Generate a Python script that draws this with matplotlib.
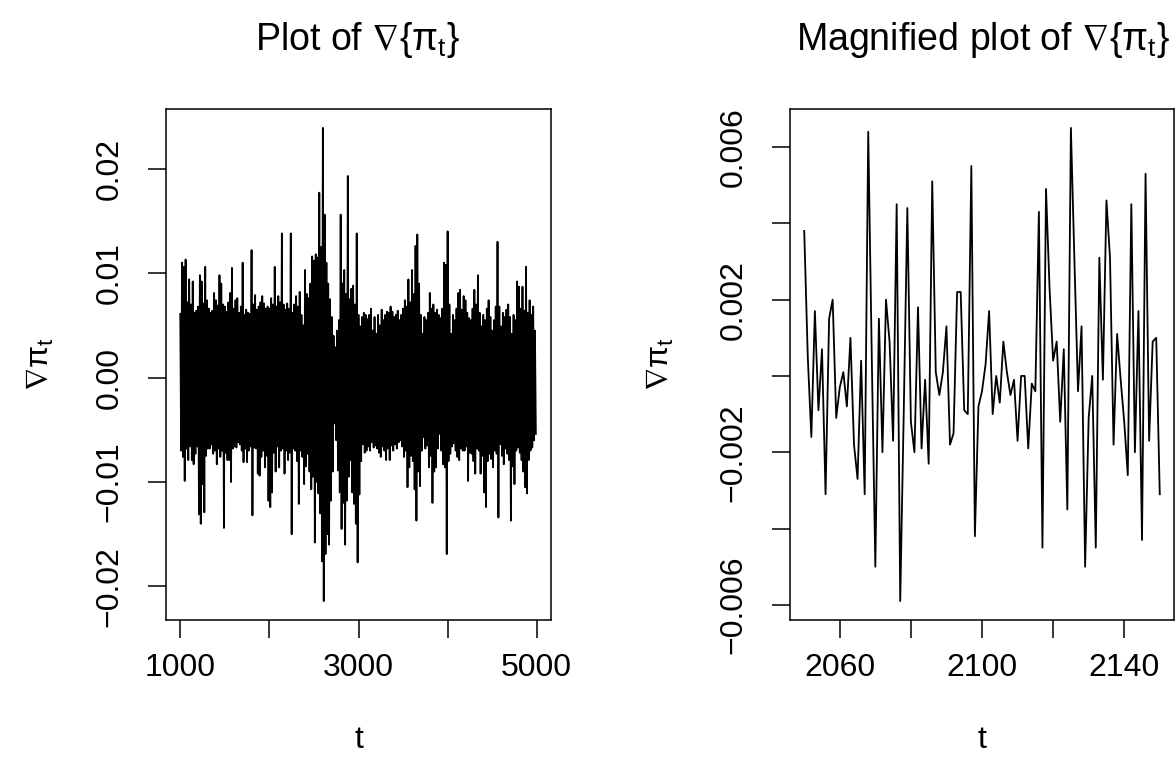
import numpy as np
import matplotlib
matplotlib.use("Agg")
import matplotlib.pyplot as plt

plt.rcParams['font.family'] = ['Liberation Sans', 'DejaVu Sans']
plt.rcParams['mathtext.fontset'] = 'custom'
plt.rcParams['mathtext.rm'] = 'Liberation Sans'
plt.rcParams['mathtext.it'] = 'Liberation Sans'
plt.rcParams['mathtext.fallback'] = 'stixsans'

# Left panel: upper spikes (t = 1000, 1020, ..., 4980) and lower spikes (t = 1010, ..., 4990)
upper = [
    0.0061, 0.0110, 0.0106, 0.0113, 0.0072, 0.0094, 0.0070, 0.0092, 0.0062, 0.0064,
    0.0068, 0.0098, 0.0092, 0.0071, 0.0106, 0.0074, 0.0066, 0.0062, 0.0064, 0.0081,
    0.0074, 0.0069, 0.0098, 0.0090, 0.0070, 0.0068, 0.0063, 0.0072, 0.0081, 0.0105,
    0.0066, 0.0074, 0.0076, 0.0062, 0.0068, 0.0110, 0.0060, 0.0065, 0.0062, 0.0061,
    0.0122, 0.0070, 0.0079, 0.0065, 0.0068, 0.0072, 0.0078, 0.0071, 0.0066, 0.0068,
    0.0066, 0.0076, 0.0070, 0.0106, 0.0068, 0.0078, 0.0072, 0.0138, 0.0070, 0.0065,
    0.0071, 0.0066, 0.0138, 0.0062, 0.0070, 0.0078, 0.0068, 0.0082, 0.0060, 0.0050,
    0.0103, 0.0080, 0.0076, 0.0090, 0.0116, 0.0112, 0.0118, 0.0115, 0.0177, 0.0125,
    0.0239, 0.0156, 0.0110, 0.0090, 0.0075, 0.0058, 0.0040, 0.0029, 0.0045, 0.0055,
    0.0156, 0.0090, 0.0103, 0.0080, 0.0193, 0.0075, 0.0085, 0.0088, 0.0070, 0.0138,
    0.0060, 0.0049, 0.0058, 0.0062, 0.0060, 0.0056, 0.0060, 0.0066, 0.0045, 0.0058,
    0.0042, 0.0060, 0.0050, 0.0065, 0.0055, 0.0060, 0.0063, 0.0062, 0.0068, 0.0063,
    0.0058, 0.0060, 0.0064, 0.0055, 0.0060, 0.0066, 0.0074, 0.0068, 0.0094, 0.0072,
    0.0103, 0.0080, 0.0126, 0.0137, 0.0090, 0.0060, 0.0042, 0.0058, 0.0055, 0.0062,
    0.0081, 0.0066, 0.0070, 0.0062, 0.0065, 0.0060, 0.0057, 0.0066, 0.0110, 0.0108,
    0.0140, 0.0070, 0.0042, 0.0060, 0.0055, 0.0066, 0.0081, 0.0084, 0.0065, 0.0078,
    0.0074, 0.0062, 0.0057, 0.0055, 0.0066, 0.0084, 0.0070, 0.0098, 0.0062, 0.0049,
    0.0060, 0.0055, 0.0066, 0.0074, 0.0058, 0.0045, 0.0055, 0.0068, 0.0130, 0.0068,
    0.0049, 0.0062, 0.0058, 0.0065, 0.0070, 0.0058, 0.0042, 0.0060, 0.0055, 0.0092,
    0.0087, 0.0066, 0.0087, 0.0064, 0.0106, 0.0062, 0.0074, 0.0060, 0.0068, 0.0045,
]
lower = [
    -0.0070, -0.0076, -0.0099, -0.0068, -0.0079, -0.0066, -0.0079, -0.0083, -0.0073, -0.0066,
    -0.0131, -0.0140, -0.0102, -0.0129, -0.0075, -0.0068, -0.0068, -0.0064, -0.0073, -0.0070,
    -0.0083, -0.0068, -0.0076, -0.0070, -0.0144, -0.0072, -0.0079, -0.0079, -0.0100, -0.0068,
    -0.0066, -0.0067, -0.0062, -0.0064, -0.0070, -0.0081, -0.0068, -0.0081, -0.0070, -0.0066,
    -0.0132, -0.0067, -0.0068, -0.0092, -0.0094, -0.0076, -0.0070, -0.0086, -0.0075, -0.0118,
    -0.0124, -0.0110, -0.0072, -0.0090, -0.0066, -0.0086, -0.0070, -0.0068, -0.0092, -0.0070,
    -0.0079, -0.0072, -0.0150, -0.0068, -0.0070, -0.0080, -0.0121, -0.0070, -0.0076, -0.0102,
    -0.0085, -0.0073, -0.0090, -0.0107, -0.0095, -0.0158, -0.0100, -0.0111, -0.0130, -0.0176,
    -0.0214, -0.0169, -0.0150, -0.0160, -0.0118, -0.0090, -0.0044, -0.0060, -0.0089, -0.0110,
    -0.0145, -0.0120, -0.0160, -0.0118, -0.0095, -0.0079, -0.0110, -0.0121, -0.0140, -0.0177,
    -0.0112, -0.0080, -0.0064, -0.0072, -0.0070, -0.0066, -0.0070, -0.0062, -0.0067, -0.0065,
    -0.0068, -0.0072, -0.0076, -0.0066, -0.0070, -0.0079, -0.0068, -0.0079, -0.0065, -0.0070,
    -0.0064, -0.0068, -0.0062, -0.0060, -0.0066, -0.0076, -0.0070, -0.0105, -0.0086, -0.0075,
    -0.0080, -0.0107, -0.0137, -0.0090, -0.0104, -0.0070, -0.0057, -0.0068, -0.0065, -0.0086,
    -0.0075, -0.0120, -0.0090, -0.0086, -0.0068, -0.0054, -0.0070, -0.0083, -0.0086, -0.0169,
    -0.0080, -0.0073, -0.0066, -0.0063, -0.0070, -0.0076, -0.0079, -0.0068, -0.0070, -0.0070,
    -0.0066, -0.0099, -0.0072, -0.0073, -0.0080, -0.0092, -0.0068, -0.0070, -0.0092, -0.0075,
    -0.0110, -0.0124, -0.0080, -0.0073, -0.0078, -0.0086, -0.0070, -0.0073, -0.0134, -0.0064,
    -0.0075, -0.0083, -0.0068, -0.0073, -0.0079, -0.0137, -0.0085, -0.0102, -0.0070, -0.0067,
    -0.0072, -0.0079, -0.0090, -0.0105, -0.0111, -0.0079, -0.0070, -0.0067, -0.0060, -0.0054,
]

# Right panel: t = 2050 ... 2150
zoom_vals = [
    0.0038, 0.0005, -0.0016, 0.0017, -0.0009, 0.0007, -0.0031, 0.0015, 0.0020, -0.0011,
    -0.0003, 0.0001, -0.0008, 0.0010, -0.0018, -0.0027, 0.0004, -0.0031, 0.0064, 0.0005,
    -0.0050, 0.0015, -0.0020, 0.0020, 0.0009, -0.0017, 0.0045, -0.0059, -0.0009, 0.0044,
    -0.0012, -0.0020, 0.0018, -0.0019, -0.0001, -0.0023, 0.0051, 0.0001, -0.0005, 0.0001,
    0.0013, -0.0018, -0.0015, 0.0022, 0.0022, -0.0009, -0.0010, 0.0055, -0.0042, -0.0008,
    -0.0004, 0.0003, 0.0017, -0.0010, 0.0000, -0.0007, 0.0009, 0.0001, -0.0005, -0.0001,
    -0.0017, 0.0000, 0.0000, -0.0019, -0.0002, -0.0004, 0.0043, -0.0045, 0.0049, 0.0023,
    0.0004, 0.0009, -0.0012, 0.0007, -0.0035, 0.0065, 0.0030, -0.0004, 0.0013, -0.0050,
    -0.0011, 0.0000, -0.0045, 0.0031, -0.0001, 0.0046, 0.0031, -0.0018, 0.0011, -0.0001,
    -0.0012, -0.0026, 0.0045, -0.0020, 0.0017, -0.0043, 0.0053, -0.0017, 0.0009, 0.0010,
    -0.0031,
]
zoom_t = np.arange(2050, 2151)

left_yticks = [-0.02, -0.01, 0.0, 0.01, 0.02]
left_ylabels = ['\u22120.02', '\u22120.01', '0.00', '0.01', '0.02']
left_xticks = [1000, 2000, 3000, 4000, 5000]
left_xlabels = ['1000', '', '3000', '', '5000']
right_yticks = [-0.006, -0.004, -0.002, 0.0, 0.002, 0.004, 0.006]
right_ylabels = ['\u22120.006', '', '\u22120.002', '', '0.002', '', '0.006']
right_xticks = [2060, 2080, 2100, 2120, 2140]
right_xlabels = ['2060', '', '2100', '', '2140']

# interleave spikes into one series
t_up = 1000 + 20 * np.arange(len(upper))
full_t = np.column_stack([t_up, t_up + 10]).ravel()
full_v = np.column_stack([upper, lower]).ravel()


def r_lim(lo, hi):
    pad = 0.04 * (hi - lo)
    return lo - pad, hi + pad


W, H = 1176, 772
fig = plt.figure(figsize=(W / 100, H / 100), dpi=100)
ax1 = fig.add_axes([166 / W, 1 - 620 / H, 385 / W, 511 / H])
ax2 = fig.add_axes([790 / W, 1 - 620 / H, 384 / W, 511 / H])

ax1.plot(full_t, full_v, color='black', lw=1.3)
ax2.plot(zoom_t, zoom_vals, color='black', lw=1.3)

ax1.set_xlim(r_lim(1000, 5000))
ax1.set_ylim(r_lim(min(lower), max(upper)))
ax2.set_xlim(r_lim(2050, 2150))
ax2.set_ylim(r_lim(min(zoom_vals), max(zoom_vals)))

for ax, xt, xl, yt, yl in [(ax1, left_xticks, left_xlabels, left_yticks, left_ylabels),
                           (ax2, right_xticks, right_xlabels, right_yticks, right_ylabels)]:
    ax.set_xticks(xt)
    ax.set_xticklabels(xl)
    ax.set_yticks(yt)
    ax.set_yticklabels(yl, rotation=90, va='center')
    ax.tick_params(axis='both', direction='out', length=13, width=1.1, labelsize=23)
    ax.tick_params(axis='x', pad=11)
    ax.tick_params(axis='y', pad=17)
    for s in ax.spines.values():
        s.set_linewidth(1.1)
    ax.set_xlabel('t', fontsize=23, va='center')
    ax.set_ylabel(r'$\nabla\mathrm{\pi}_\mathrm{t}$', fontsize=23, va='center')
    ax.xaxis.set_label_coords(0.5, -0.235)

ax1.yaxis.set_label_coords((40 - 166) / 385, 0.5)
ax2.yaxis.set_label_coords((660 - 790) / 384, 0.5)

fig.text(358 / W, 1 - 40 / H, r'Plot of $\nabla\{\mathrm{\pi}_\mathrm{t}\}$',
         fontsize=27, ha='center', va='center')
fig.text(983 / W, 1 - 40 / H, r'Magnified plot of $\nabla\{\mathrm{\pi}_\mathrm{t}\}$',
         fontsize=27, ha='center', va='center')

fig.savefig('out.png', dpi=100)
